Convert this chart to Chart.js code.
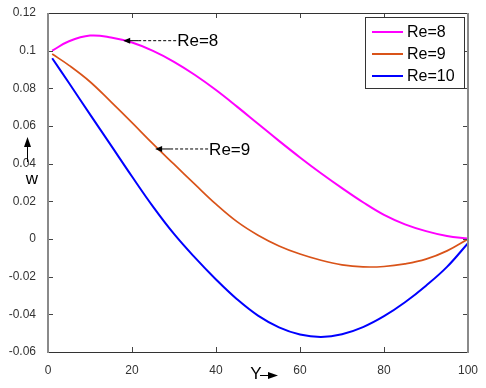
<!DOCTYPE html>
<html>
<head>
<meta charset="utf-8">
<script src="https://cdn.jsdelivr.net/npm/chart.js@4"></script>
<style>
  body { margin: 0; background: #fff; }
  canvas { display: block; }
</style>
</head>
<body>
<canvas id="wChart" width="486" height="388"></canvas>
<script>
/* =========================
   Data
========================= */
const yPos = [1, 5, 10, 15, 20, 25, 30, 35, 40, 45, 50, 55, 60, 65, 70, 75, 80, 85, 90, 95, 100];

const re8 = [0.1000, 0.1050, 0.1080, 0.1070, 0.1043, 0.0999, 0.0941, 0.0871, 0.0791, 0.0703, 0.0612,
             0.0521, 0.0433, 0.0349, 0.0270, 0.0195, 0.0128, 0.0078, 0.0042, 0.0016, 0.0002];
const re9 = [0.0982, 0.0922, 0.0835, 0.0728, 0.0618, 0.0505, 0.0397, 0.0290, 0.0185, 0.0092, 0.0020,
             -0.0037, -0.0080, -0.0113, -0.0137, -0.0148, -0.0146, -0.0132, -0.0107, -0.0063, 0.0000];
const re10 = [0.0960, 0.0828, 0.0662, 0.0497, 0.0332, 0.0172, 0.0027, -0.0099, -0.0215, -0.0320, -0.0407,
              -0.0469, -0.0507, -0.0520, -0.0506, -0.0468, -0.0410, -0.0336, -0.0248, -0.0148, -0.0022];

const seriesLabels = ["Re=8", "Re=9", "Re=10"];
const seriesColors = ["#ff00ff", "#d95319", "#0000ff"];

const xTicks = [0, 20, 40, 60, 80, 100];
const yTicks = [-0.06, -0.04, -0.02, 0, 0.02, 0.04, 0.06, 0.08, 0.1, 0.12];

// arrow callouts: label, point on the curve it points at
const callouts = [
    { text: "Re=8", x: 17.9, y: 0.1053 },
    { text: "Re=9", x: 25.5, y: 0.0478 }
];

const toPoints = vals => yPos.map((x, i) => ({ x: x, y: vals[i] }));

/* =========================
   Helpers
========================= */
function arrowHead(ctx, tipX, tipY, dx, dy, len, half) {
    // dx,dy: unit direction the arrow points to
    const bx = tipX - dx * len, by = tipY - dy * len;
    ctx.beginPath();
    ctx.moveTo(tipX, tipY);
    ctx.lineTo(bx - dy * half, by + dx * half);
    ctx.lineTo(bx + dy * half, by - dx * half);
    ctx.closePath();
    ctx.fill();
}

/* =========================
   Frame, ticks, legend, callouts
========================= */
const decorPlugin = {
    id: "decor",
    afterDraw(chart) {
        const ctx = chart.ctx;
        const a = chart.chartArea;
        const xs = chart.scales.x, ys = chart.scales.y;
        ctx.save();

        // inward ticks
        ctx.strokeStyle = "#444";
        ctx.lineWidth = 1;
        ctx.beginPath();
        xTicks.forEach(v => {
            const px = Math.round(xs.getPixelForValue(v)) + 0.5;
            ctx.moveTo(px, a.bottom); ctx.lineTo(px, a.bottom - 5);
            ctx.moveTo(px, a.top); ctx.lineTo(px, a.top + 5);
        });
        yTicks.forEach(v => {
            const py = Math.round(ys.getPixelForValue(v)) + 0.5;
            ctx.moveTo(a.left, py); ctx.lineTo(a.left + 5, py);
            ctx.moveTo(a.right, py); ctx.lineTo(a.right - 5, py);
        });
        ctx.stroke();

        // box
        ctx.strokeStyle = "#333";
        ctx.lineWidth = 1;
        ctx.beginPath();
        ctx.moveTo(a.left, Math.round(a.top) + 0.5); ctx.lineTo(a.right, Math.round(a.top) + 0.5);
        ctx.moveTo(a.left, Math.round(a.bottom) + 0.5); ctx.lineTo(a.right, Math.round(a.bottom) + 0.5);
        ctx.stroke();
        ctx.strokeStyle = "#8a8a8a";
        ctx.lineWidth = 2;
        ctx.beginPath();
        ctx.moveTo(a.left, a.top); ctx.lineTo(a.left, a.bottom + 1);
        ctx.moveTo(a.right, a.top); ctx.lineTo(a.right, a.bottom + 1);
        ctx.stroke();

        // legend
        const lx = 365, ly = 17, lw = 99, lh = 71;
        ctx.fillStyle = "#fff";
        ctx.fillRect(lx, ly, lw, lh);
        ctx.strokeStyle = "#333";
        ctx.lineWidth = 1;
        ctx.strokeRect(lx + 0.5, ly + 0.5, lw, lh);
        ctx.font = "16px Arial, 'Liberation Sans', sans-serif";
        ctx.textBaseline = "middle";
        ctx.textAlign = "left";
        chart.data.datasets.forEach((ds, i) => {
            const rowY = ly + 15 + i * 22;
            ctx.strokeStyle = ds.borderColor;
            ctx.lineWidth = 2;
            ctx.beginPath();
            ctx.moveTo(lx + 7, rowY); ctx.lineTo(lx + 38, rowY);
            ctx.stroke();
            ctx.fillStyle = "#000";
            ctx.fillText(ds.label, lx + 42, rowY + 1);
        });

        // callouts with dashed arrows
        ctx.font = "17px Arial, 'Liberation Sans', sans-serif";
        callouts.forEach(c => {
            const tx = xs.getPixelForValue(c.x);
            const ty = ys.getPixelForValue(c.y);
            ctx.fillStyle = "#000";
            ctx.strokeStyle = "#000";
            ctx.lineWidth = 1;
            arrowHead(ctx, tx, ty, -1, 0, 7, 3);
            ctx.beginPath();
            ctx.moveTo(tx + 6, ty); ctx.lineTo(tx + 15, ty);
            ctx.stroke();
            ctx.setLineDash([3, 2]);
            ctx.beginPath();
            ctx.moveTo(tx + 15, ty); ctx.lineTo(tx + 54, ty);
            ctx.stroke();
            ctx.setLineDash([]);
            ctx.fillText(c.text, tx + 54, ty + 1);
        });

        // axis titles with arrows
        ctx.fillStyle = "#000";
        ctx.strokeStyle = "#000";
        ctx.lineWidth = 1;
        ctx.beginPath();
        ctx.moveTo(27.5, 162); ctx.lineTo(27.5, 144);
        ctx.stroke();
        arrowHead(ctx, 27.5, 137, 0, -1, 10, 3.5);
        ctx.textAlign = "center";
        ctx.fillText("w", 32, 179);

        ctx.fillText("Y", 256, 374);
        ctx.beginPath();
        ctx.moveTo(260, 375.5); ctx.lineTo(270, 375.5);
        ctx.stroke();
        arrowHead(ctx, 278, 375.5, 1, 0, 10, 3.5);

        ctx.restore();
    }
};

/* =========================
   Chart
========================= */
new Chart(document.getElementById("wChart"), {
    type: "line",
    data: {
        datasets: [re8, re9, re10].map((vals, i) => ({
            label: seriesLabels[i],
            data: toPoints(vals),
            borderColor: seriesColors[i],
            borderWidth: i === 1 ? 1.7 : 2,
            pointRadius: 0,
            fill: false,
            tension: 0.4
        }))
    },
    options: {
        responsive: false,
        animation: false,
        layout: { padding: { top: 13, right: 18, left: 0, bottom: 0 } },
        plugins: {
            legend: { display: false },
            tooltip: { enabled: false }
        },
        scales: {
            x: {
                type: "linear",
                min: 0,
                max: 100,
                afterFit: s => { s.height = 36; },
                afterBuildTicks: s => { s.ticks = xTicks.map(v => ({ value: v })); },
                grid: { display: false },
                border: { display: false },
                ticks: {
                    padding: 3,
                    color: "#333",
                    font: { family: "Arial, 'Liberation Sans', sans-serif", size: 12 },
                    maxRotation: 0
                }
            },
            y: {
                type: "linear",
                min: -0.06,
                max: 0.12,
                afterFit: s => { s.width = 48; },
                afterBuildTicks: s => { s.ticks = yTicks.map(v => ({ value: v })); },
                grid: { display: false },
                border: { display: false },
                ticks: {
                    padding: 4,
                    color: "#333",
                    font: { family: "Arial, 'Liberation Sans', sans-serif", size: 12 },
                    callback: v => String(+v.toFixed(2))
                }
            }
        }
    },
    plugins: [decorPlugin]
});
</script>
</body>
</html>
